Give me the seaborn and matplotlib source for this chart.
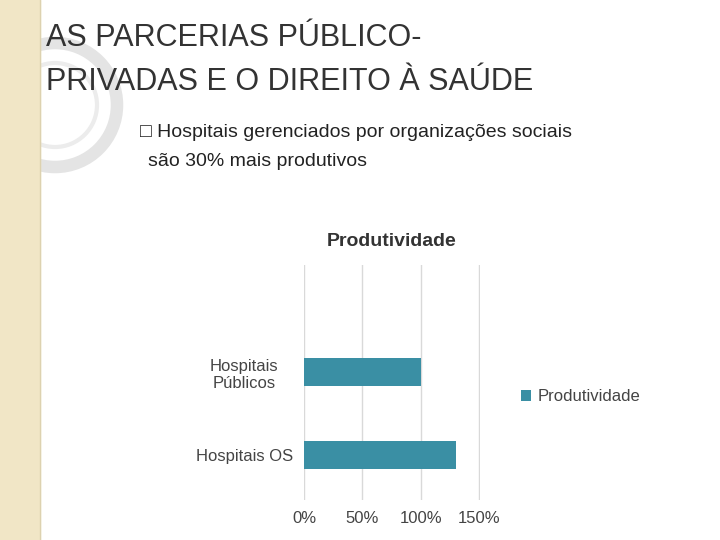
import matplotlib
matplotlib.use("Agg")
import matplotlib.pyplot as plt
import seaborn as sns
import pandas as pd
from matplotlib.patches import Rectangle, Circle

categories = ["Hospitais\nPúblicos", "Hospitais OS"]
values = [100, 130]
ticks = [0, 50, 100, 150]
tick_labels = ["0%", "50%", "100%", "150%"]

plt.rcParams["font.family"] = ["Liberation Sans", "DejaVu Sans"]

fig = plt.figure(figsize=(7.2, 5.4), dpi=100)
fig.patch.set_facecolor("white")

bg = fig.add_axes([0, 0, 1, 1], zorder=-1)
bg.set_xlim(0, 720); bg.set_ylim(540, 0); bg.axis("off")
bg.add_patch(Circle((55, 105), 62, fill=False, ec="#e4e4e4", lw=9))
bg.add_patch(Circle((55, 105), 42, fill=False, ec="#ececec", lw=3))
bg.add_patch(Rectangle((0, 0), 40, 540, color="#f1e6c6", zorder=3))
bg.plot([40, 40], [0, 540], color="#ddd2b0", lw=1, zorder=4)

fig.text(46/720, 1-38/540, "AS PARCERIAS PÚBLICO-", fontsize=22, color="#333333", va="center")
fig.text(46/720, 1-82/540, "PRIVADAS E O DIREITO À SAÚDE", fontsize=22, color="#333333", va="center")
fig.text(140/720, 1-133/540, "\u25a1 Hospitais gerenciados por organizações sociais", fontsize=14, color="#222222", va="center")
fig.text(148/720, 1-162/540, "são 30% mais produtivos", fontsize=14, color="#222222", va="center")

ax = fig.add_axes([304/720, 1-500/540, 176/720, 235/540])
df = pd.DataFrame({"cat": categories, "val": values})
sns.barplot(data=df, x="val", y="cat", orient="h", color="#3a8fa4", width=0.34, ax=ax, saturation=1, label="Produtividade")
ax.set_xlim(0, 150.5)
ax.set_ylim(1.54, -1.29)
ax.set_xticks(ticks)
ax.set_xticklabels(tick_labels, fontsize=12, color="#444444")
ax.tick_params(axis="y", labelsize=12, labelcolor="#444444", length=0, pad=14)
ax.tick_params(axis="x", length=0, pad=8)
for lab in ax.get_yticklabels():
    lab.set_horizontalalignment("center")
    lab.set_x(-0.23)
ax.set_xlabel(""); ax.set_ylabel("")
ax.grid(axis="x", color="#d9d9d9", lw=1)
ax.set_axisbelow(True)
for s in ax.spines.values():
    s.set_visible(False)
ax.legend(loc="center left", bbox_to_anchor=(1.15, 0.44), frameon=False, fontsize=12,
          handlelength=0.6, handleheight=0.6, handletextpad=0.4, labelcolor="#444444")
ax.set_title("Produtividade", fontsize=14, fontweight="bold", color="#333333", pad=14)

fig.savefig("out.png", dpi=100)
